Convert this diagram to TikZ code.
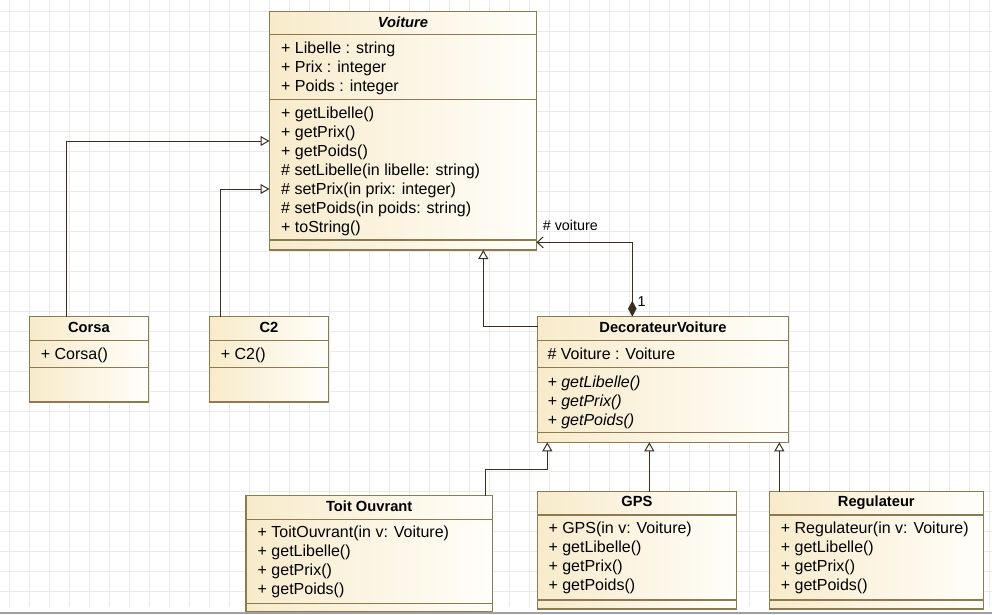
\documentclass[tikz,border=0pt]{standalone}
\usepackage{fontspec}
\setmainfont{Liberation Sans}
\usetikzlibrary{arrows.meta}
\definecolor{gridc}{RGB}{234,234,234}
\definecolor{umlborder}{RGB}{140,122,82}
\definecolor{umlfillL}{RGB}{248,235,203}
\definecolor{umlfillR}{RGB}{255,254,250}
\definecolor{linec}{RGB}{58,46,30}
\definecolor{barc}{RGB}{160,160,160}
\newcommand\hdiv[2]{\draw[divline] ([yshift=-#2pt]#1.north west) -- ([yshift=-#2pt]#1.north east);}
\begin{document}
\begin{tikzpicture}[x=1pt,y=-1pt,
  cls/.style={draw=umlborder, line width=1.2pt, left color=umlfillL, right color=umlfillR, anchor=north west, inner sep=0pt, outer sep=0pt},
  divline/.style={draw=umlborder, line width=1.2pt},
  mem/.style={anchor=base west, inner sep=0pt, font=\fontsize{16}{19}\selectfont},
  ttl/.style={anchor=base, inner sep=0pt, font=\fontsize{14.7}{17}\selectfont\bfseries},
  lbl/.style={anchor=base west, inner sep=0pt, font=\fontsize{14.3}{17}\selectfont},
  gridline/.style={draw=gridc, line width=1pt},
  gen/.style={draw=linec, line width=1pt, -{Triangle[open, length=9pt, width=10pt]}},
  comp/.style={draw=linec, line width=1.4pt, {Diamond[length=16pt, width=8.5pt, fill=linec]}-{Straight Barb[length=6pt, width=11pt, line width=1pt]}}
]
\useasboundingbox (0,0) rectangle (992,614);
% background grid
\foreach \x in {9.5,29.5,...,989.5} \draw[gridline] (\x,0) -- (\x,607);
\foreach \y in {11.5,31.5,...,591.5} \draw[gridline] (0,\y) -- (992,\y);

% Voiture
\node[cls, minimum width=267pt, minimum height=238.5pt] (voiture) at (269.5,11.5) {};
\hdiv{voiture}{23}
\hdiv{voiture}{88}
\hdiv{voiture}{228.5}
\node[ttl, font=\fontsize{14.7}{17}\selectfont\bfseries\itshape] (voiturettl) at (403,27.7) {Voiture};
\foreach \t [count=\i] in {+ Libelle : string, + Prix : integer, + Poids : integer}
  \node[mem] (va\i) at (281,{53.3+19*(\i-1)}) {\t};
\foreach \t [count=\i] in {+ getLibelle(), + getPrix(), + getPoids(), \# setLibelle(in libelle: string), \# setPrix(in prix: integer), \# setPoids(in poids: string), + toString()}
  \node[mem] (vo\i) at (281,{118.3+19*(\i-1)}) {\t};

% Corsa
\node[cls, minimum width=118.8pt, minimum height=85.3pt] (corsa) at (29.5,316.7) {};
\hdiv{corsa}{23.6}
\hdiv{corsa}{50.6}
\node[ttl] (corsattl) at (88.9,332.3) {Corsa};
\node[mem] (corsaop) at (40.7,359.3) {+ Corsa()};

% C2
\node[cls, minimum width=118.6pt, minimum height=85.3pt] (c2) at (209.7,316.7) {};
\hdiv{c2}{23.6}
\hdiv{c2}{50.6}
\node[ttl] (c2ttl) at (269,332.3) {C2};
\node[mem] (c2op) at (220.7,359.3) {+ C2()};

% DecorateurVoiture
\node[cls, minimum width=250.6pt, minimum height=125.6pt] (deco) at (537.7,316.7) {};
\hdiv{deco}{23.6}
\hdiv{deco}{50.6}
\hdiv{deco}{115.6}
\node[ttl] (decottl) at (663,332.7) {DecorateurVoiture};
\node[mem] (decoattr) at (547.3,359) {\# Voiture : Voiture};
\foreach \t [count=\i] in {+ getLibelle(), + getPrix(), + getPoids()}
  \node[mem, font=\fontsize{16}{19}\selectfont\itshape] (decoop\i) at (547.3,{387.3+19*(\i-1)}) {\t};

% Toit Ouvrant
\node[cls, minimum width=246.3pt, minimum height=116.3pt] (toit) at (246,495.7) {};
\hdiv{toit}{23.6}
\hdiv{toit}{107.6}
\node[ttl] (toitttl) at (369.2,511.7) {Toit Ouvrant};
\foreach \t [count=\i] in {+ ToitOuvrant(in v: Voiture), + getLibelle(), + getPrix(), + getPoids()}
  \node[mem] (toitop\i) at (257.5,{537.3+19*(\i-1)}) {\t};

% GPS
\node[cls, minimum width=199.4pt, minimum height=117.3pt] (gps) at (537.3,491.7) {};
\hdiv{gps}{23.3}
\hdiv{gps}{108.3}
\node[ttl] (gpsttl) at (637,506.7) {GPS};
\foreach \t [count=\i] in {+ GPS(in v: Voiture), + getLibelle(), + getPrix(), + getPoids()}
  \node[mem] (gpsop\i) at (548.3,{533.3+19*(\i-1)}) {\t};

% Regulateur
\node[cls, minimum width=214pt, minimum height=117.3pt] (reg) at (769.3,491.7) {};
\hdiv{reg}{23.3}
\hdiv{reg}{108.3}
\node[ttl] (regttl) at (876.3,506.7) {Regulateur};
\foreach \t [count=\i] in {+ Regulateur(in v: Voiture), + getLibelle(), + getPrix(), + getPoids()}
  \node[mem] (regop\i) at (780.7,{533.3+19*(\i-1)}) {\t};

% connectors
\draw[gen] ([xshift=37.2pt]corsa.north west) |- ([yshift=-129.5pt]voiture.north west);
\draw[gen] ([xshift=11pt]c2.north west) |- ([yshift=-177.5pt]voiture.north west);
\draw[gen] ([yshift=-9.6pt]deco.north west) -| ([xshift=-53.2pt]voiture.south east);
\draw[comp] ([xshift=94.6pt]deco.north west) |- ([yshift=7.7pt]voiture.south east);
\node[lbl] (rolelbl) at (542.7,230) {\# voiture};
\node[lbl] (multlbl) at (637.5,306.7) {1};
\draw[gen] ([xshift=-7.3pt]toit.north east) |- ([xshift=9.6pt,yshift=-27pt]deco.south west) -- ([xshift=9.6pt]deco.south west);
\draw[gen] ([xshift=112pt]gps.north west) -- ([xshift=112pt]gps.north west |- deco.south);
\draw[gen] ([xshift=10pt]reg.north west) -- ([xshift=10pt]reg.north west |- deco.south);

% bottom edge bar
\fill[barc] (0,611.5) rectangle (992,614);
\end{tikzpicture}
\end{document}
